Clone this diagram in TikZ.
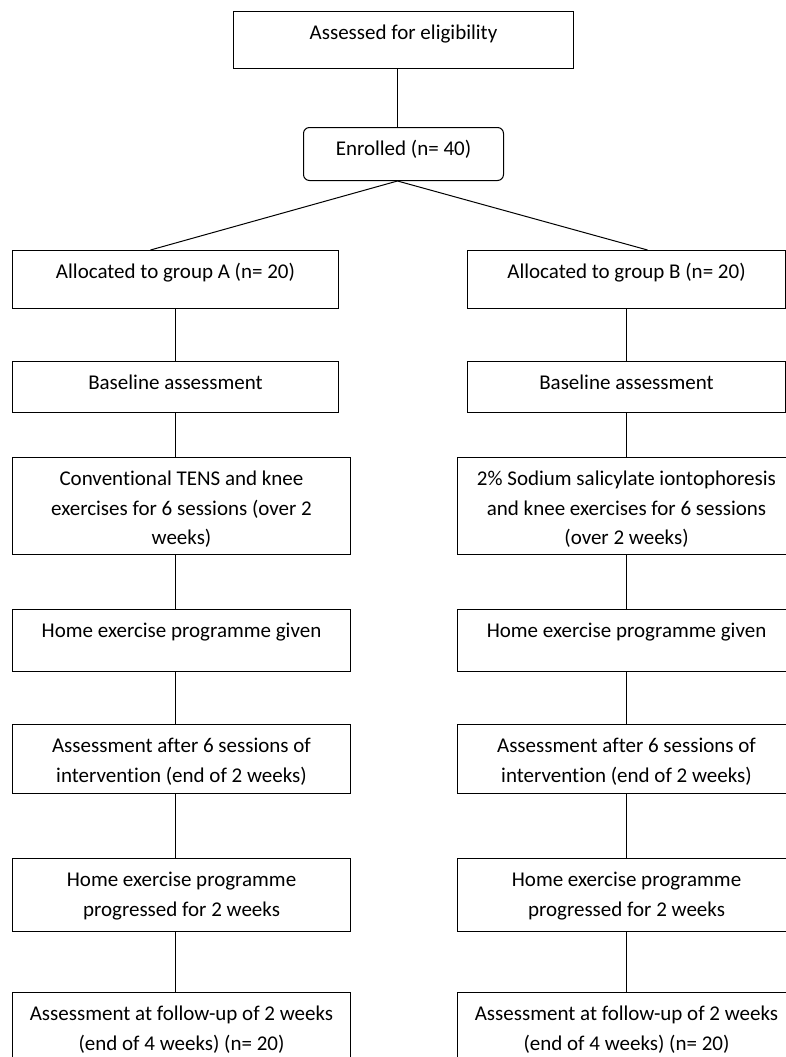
\documentclass[tikz,border=0pt]{standalone}
\usepackage{fontspec}
\setmainfont{Carlito}[Ligatures=NoCommon]
\usetikzlibrary{calc}
\def\flowtext(#1:#2)#3{\parbox[c][#2pt][t]{#1pt}{\centering\rule{0pt}{28pt}#3}}
\tikzset{flow/.style={draw, line width=1pt, inner sep=0pt, anchor=north west, font=\fontsize{21}{29.5}\selectfont}}

\begin{document}
\begin{tikzpicture}[x=1pt, y=-1pt, line width=1pt]
			%%%%% START %%%%%
			\useasboundingbox (0,0) rectangle (786,1057);
			
			\node[flow] (elig) at (233,11) {\flowtext(340:57){Assessed for eligibility}};
			\node[flow, rounded corners=6pt] (enrol) at (303,127) {\flowtext(200:53){Enrolled (n= 40)}};
			
			% group A
			\node[flow] (allocA) at (12,250) {\flowtext(326:58){Allocated to group A (n= 20)}};
			\node[flow] (baseA) at (12,361) {\flowtext(326:51){Baseline assessment}};
			\node[flow] (tensA) at (12,457) {\flowtext(338:97){Conventional TENS and knee\\ exercises for 6 sessions (over 2\\ weeks)}};
			\node[flow] (homeA) at (12,609) {\flowtext(338:62){Home exercise programme given}};
			\node[flow] (assA) at (12,724) {\flowtext(338:69){Assessment after 6 sessions of\\ intervention (end of 2 weeks)}};
			\node[flow] (progA) at (12,858) {\flowtext(338:73){Home exercise programme\\ progressed for 2 weeks}};
			\node[flow] (fuA) at (12,992) {\flowtext(338:73){Assessment at follow-up of 2 weeks\\ (end of 4 weeks) (n= 20)}};
			
			% group B
			\node[flow] (allocB) at (467,250) {\flowtext(318:58){Allocated to group B (n= 20)}};
			\node[flow] (baseB) at (467,361) {\flowtext(318:51){Baseline assessment}};
			\node[flow] (iontoB) at (457,457) {\flowtext(338:97){2\% Sodium salicylate iontophoresis\\ and knee exercises for 6 sessions\\ (over 2 weeks)}};
			\node[flow] (homeB) at (457,609) {\flowtext(338:62){Home exercise programme given}};
			\node[flow] (assB) at (457,724) {\flowtext(338:69){Assessment after 6 sessions of\\ intervention (end of 2 weeks)}};
			\node[flow] (progB) at (457,858) {\flowtext(338:73){Home exercise programme\\ progressed for 2 weeks}};
			\node[flow] (fuB) at (457,992) {\flowtext(338:73){Assessment at follow-up of 2 weeks\\ (end of 4 weeks) (n= 20)}};
			
			\draw ($(elig.south)+(-6,0)$) -- ($(enrol.north)+(-6,0)$);
			\coordinate (hub) at ($(enrol.south)+(-6,0)$);
			\draw ($(allocA.north)+(-25,0)$) -- (hub) -- ($(allocB.north)+(21,0)$);
			
			\foreach \a/\b in {allocA/baseA, baseA/tensA, tensA/homeA, homeA/assA, assA/progA, progA/fuA}
				\draw (\a.south -| allocA.south) -- (\b.north -| allocA.south);
			\foreach \a/\b in {allocB/baseB, baseB/iontoB, iontoB/homeB, homeB/assB, assB/progB, progB/fuB}
				\draw (\a.south -| allocB.south) -- (\b.north -| allocB.south);
			%%%%% END %%%%%
		\end{tikzpicture}
\end{document}
